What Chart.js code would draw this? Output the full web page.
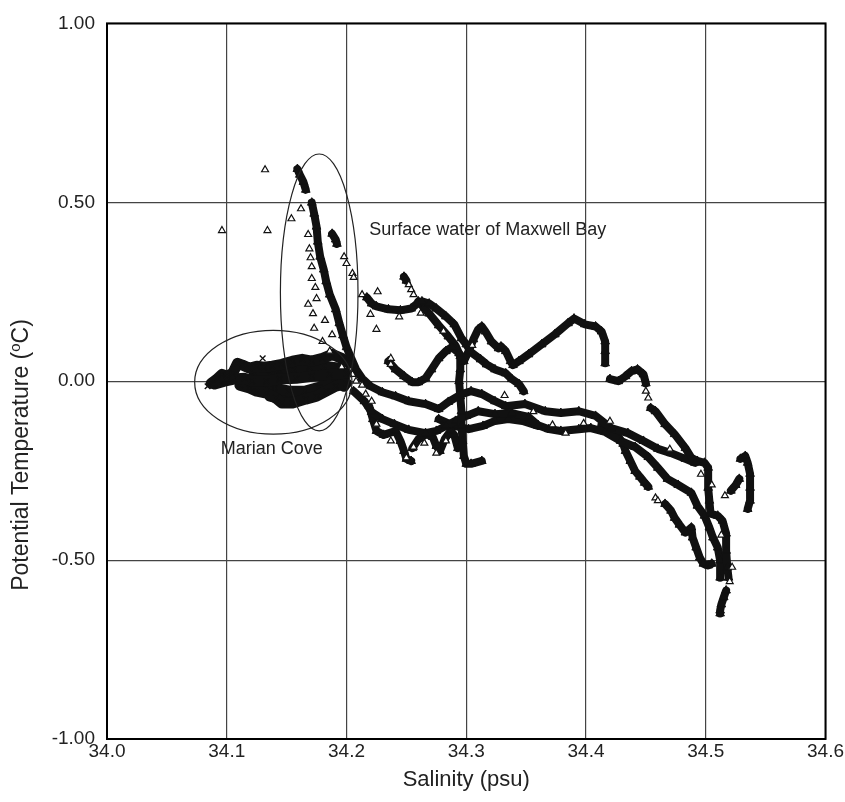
<!DOCTYPE html>
<html>
<head>
<meta charset="utf-8">
<title>Potential Temperature vs Salinity</title>
<script src="https://cdn.jsdelivr.net/npm/chart.js@4.4.0/dist/chart.umd.min.js"></script>
<style>
  html, body { margin: 0; padding: 0; background: #fff; }
  #wrap { width: 845px; height: 802px; }
</style>
</head>
<body>
<div id="wrap"><canvas id="tsChart" width="845" height="802"></canvas></div>
<script>
// axis ranges / ticks
const salinityRange = [34.0, 34.6];
const tempRange = [-1.0, 1.0];
const salinityStep = 0.1;
const tempStep = 0.5;

// Marian Cove casts (x markers) [salinity, potential temperature]
const marianCast1 = [[34.087,-0.006],[34.092,0.006],[34.096,0.019],[34.100,0.014],[34.105,0.022],[34.109,0.050],[34.113,0.045],[34.119,0.036],[34.125,0.042],[34.131,0.039],[34.138,0.042],[34.146,0.047],[34.155,0.056],[34.163,0.061],[34.171,0.056],[34.180,0.064],[34.188,0.075],[34.196,0.064],[34.202,0.050]];
const marianCast2 = [[34.090,-0.008],[34.098,0.000],[34.106,0.006],[34.115,0.008],[34.121,0.000],[34.133,0.000],[34.144,0.006],[34.158,0.008],[34.171,0.014],[34.186,0.019],[34.200,0.022]];
const marianCast3 = [[34.111,-0.011],[34.119,-0.019],[34.125,-0.028],[34.133,-0.033],[34.141,-0.047],[34.146,-0.061],[34.155,-0.061],[34.166,-0.050],[34.175,-0.042],[34.183,-0.028],[34.191,-0.014],[34.200,-0.006]];
const marianCast4 = [[34.129,-0.019],[34.140,-0.019],[34.152,-0.028],[34.165,-0.028],[34.177,-0.017],[34.190,-0.003],[34.198,0.008]];
const marianCast5 = [[34.144,0.028],[34.156,0.033],[34.169,0.039],[34.181,0.042],[34.194,0.036]];
const marianCast6 = [[34.123,0.022],[34.136,0.019],[34.152,0.014],[34.169,0.022],[34.186,0.006],[34.198,-0.014]];
const marianCast7 = [[34.136,-0.042],[34.148,-0.050],[34.161,-0.045],[34.173,-0.033]];
const marianSingles = [[34.130,0.064],[34.084,-0.014]];

// Maxwell Bay casts (triangles), null = gap in the trace
const bayCast1 = [[34.159,0.593],[34.161,0.577],[34.164,0.557],[34.166,0.535],null,
  [34.171,0.499],[34.173,0.468],[34.175,0.432],[34.176,0.390],[34.178,0.348],[34.181,0.312],[34.183,0.279],
  [34.186,0.242],[34.191,0.201],[34.194,0.162],[34.197,0.128],[34.200,0.095],[34.204,0.064],[34.208,0.033],
  [34.213,0.008],[34.220,-0.014],[34.230,-0.031],[34.241,-0.042],[34.252,-0.056],[34.266,-0.064],[34.277,-0.078],
  [34.285,-0.058],[34.296,-0.036],[34.304,-0.028],[34.313,-0.036],[34.324,-0.056],[34.333,-0.070],[34.349,-0.064],
  [34.366,-0.084],[34.379,-0.089],[34.394,-0.084],[34.408,-0.097],[34.421,-0.131],[34.435,-0.145],[34.448,-0.167],
  [34.460,-0.189],[34.471,-0.201],[34.483,-0.217],[34.491,-0.228]];
const bayCast2 = [[34.235,0.056],[34.241,0.033],[34.248,0.014],[34.255,-0.003],[34.260,-0.003],[34.266,0.008],
  [34.271,0.033],[34.277,0.064],[34.283,0.084],[34.288,0.095],[34.294,0.078],[34.298,0.056],[34.302,0.084],
  [34.306,0.117],[34.310,0.145],[34.313,0.153],[34.316,0.139],[34.321,0.111],[34.327,0.092],[34.329,0.097],
  [34.333,0.084],[34.337,0.056],[34.339,0.045],[34.344,0.056],[34.352,0.075],[34.363,0.103],[34.374,0.131],
  [34.385,0.162],[34.390,0.175],[34.399,0.159],[34.408,0.153],[34.413,0.139],[34.416,0.111],[34.416,0.084],
  [34.416,0.050],null,[34.420,0.006],[34.427,0.000],[34.433,0.014],[34.438,0.028],[34.443,0.033],[34.448,0.019],
  [34.450,-0.006],null,[34.454,-0.075],[34.458,-0.084],[34.466,-0.120],[34.474,-0.148],[34.483,-0.187],
  [34.488,-0.214],[34.493,-0.223],[34.499,-0.228],[34.502,-0.242],[34.502,-0.298],[34.503,-0.334],[34.504,-0.370],
  [34.510,-0.376],[34.514,-0.390],[34.517,-0.426],[34.517,-0.474],[34.518,-0.521],[34.519,-0.549]];
const bayCast3 = [[34.188,0.412],[34.191,0.396],[34.192,0.384],null,
  [34.217,0.234],[34.221,0.217],[34.225,0.209],[34.235,0.201],[34.245,0.198],[34.254,0.203],[34.259,0.217],
  [34.263,0.223],[34.269,0.217],[34.275,0.203],[34.283,0.181],[34.290,0.159],[34.296,0.120],[34.300,0.103],
  [34.304,0.081],[34.312,0.061],[34.317,0.047],[34.324,0.033],[34.333,0.022],[34.338,0.006],[34.344,-0.008],
  [34.348,-0.028]];
const bayCast4 = [[34.248,0.292],[34.250,0.281],null,[34.260,0.223],[34.269,0.189],[34.277,0.156],[34.285,0.125],
  [34.291,0.100],[34.295,0.070],[34.295,0.033],[34.294,0.000],[34.295,-0.042],[34.296,-0.084],[34.296,-0.125],
  [34.297,-0.167],[34.298,-0.209],[34.300,-0.231],[34.304,-0.231],[34.313,-0.223]];
const bayCast5 = [[34.206,-0.028],[34.215,-0.056],[34.221,-0.086],[34.230,-0.106],[34.240,-0.120],[34.252,-0.136],
  [34.266,-0.145],[34.275,-0.139],[34.283,-0.125],[34.291,-0.111],[34.300,-0.097],[34.310,-0.084],[34.324,-0.092],
  [34.338,-0.089],[34.352,-0.100],[34.360,-0.123],[34.369,-0.134],[34.379,-0.139],[34.394,-0.134],[34.404,-0.131],
  [34.416,-0.142],[34.429,-0.167],[34.441,-0.184],[34.452,-0.212],[34.460,-0.242],[34.468,-0.273],[34.477,-0.290],
  [34.488,-0.312],[34.493,-0.348],[34.499,-0.376],[34.503,-0.409],[34.506,-0.437],[34.510,-0.465],[34.512,-0.501],
  [34.512,-0.549]];
const bayCast6 = [[34.413,-0.120],[34.424,-0.139],[34.431,-0.175],[34.433,-0.195],[34.437,-0.223],[34.441,-0.251],
  [34.445,-0.267],[34.449,-0.284],[34.452,-0.295],null,[34.466,-0.343],[34.471,-0.362],[34.474,-0.382],
  [34.478,-0.401],[34.483,-0.423],[34.488,-0.409],[34.489,-0.437],[34.492,-0.465],[34.495,-0.493],[34.498,-0.510],
  [34.502,-0.515],[34.505,-0.510]];
const bayCast7 = [[34.219,-0.070],[34.222,-0.106],[34.225,-0.139],[34.231,-0.150],[34.241,-0.139],[34.245,-0.167],
  [34.248,-0.195],[34.250,-0.217],[34.254,-0.223]];
const bayCast8 = [[34.255,-0.187],[34.260,-0.162],[34.267,-0.148],[34.272,-0.156],[34.275,-0.181],[34.278,-0.195],
  [34.282,-0.162],[34.287,-0.139],[34.290,-0.150],[34.293,-0.187]];
const bayCast9 = [[34.517,-0.585],[34.515,-0.604],[34.513,-0.624],[34.512,-0.641],[34.512,-0.649]];
const bayCast10 = [[34.529,-0.217],[34.533,-0.209],[34.535,-0.228],[34.537,-0.259],[34.537,-0.298],[34.537,-0.334],[34.535,-0.357]];
const bayCast11 = [[34.521,-0.306],[34.525,-0.290],[34.528,-0.273]];
const bayCast12 = [[34.277,-0.106],[34.290,-0.125],[34.302,-0.134],[34.314,-0.125],[34.324,-0.111],[34.335,-0.106],[34.347,-0.111],[34.360,-0.125]];

// scattered single triangles
const baySingles = [[34.132,0.591],[34.096,0.421],[34.134,0.421],[34.154,0.454],[34.162,0.482],
  [34.169,0.370],[34.171,0.320],[34.171,0.287],[34.175,0.231],[34.172,0.189],[34.173,0.148],[34.180,0.111],
  [34.186,0.084],[34.220,0.187],[34.225,0.145],[34.237,0.064],[34.237,0.047],[34.198,0.348],[34.200,0.329],
  [34.205,0.301],[34.206,0.290],[34.252,0.270],[34.254,0.256],[34.256,0.242],[34.213,0.242],[34.450,-0.028],
  [34.452,-0.047],[34.458,-0.326],[34.460,-0.334],[34.516,-0.320],[34.205,0.019],[34.208,0.000],[34.213,-0.011],
  [34.216,-0.036],[34.221,-0.056],[34.225,-0.120],[34.237,-0.167],[34.256,-0.184],[34.265,-0.173],[34.275,-0.201],
  [34.283,-0.167],[34.250,-0.214],[34.168,0.410],[34.170,0.345],[34.174,0.262],[34.168,0.215],[34.182,0.170],
  [34.188,0.130],[34.196,0.040],[34.226,0.250],[34.244,0.180],[34.262,0.190],[34.281,0.140],[34.305,0.100],
  [34.332,-0.040],[34.356,-0.085],[34.372,-0.122],[34.383,-0.145],[34.398,-0.118],[34.420,-0.112],[34.470,-0.190],
  [34.496,-0.260],[34.505,-0.290],[34.513,-0.430],[34.522,-0.520],[34.520,-0.560]];

// annotations (ellipse centre and half-axes in data units)
const ellipses = [
  { sal: 34.1772, temp: 0.248, dSal: 0.0324, dTemp: 0.387 },
  { sal: 34.1389, temp: -0.003, dSal: 0.0657, dTemp: 0.145 }
];
const notes = [
  { text: 'Surface water of Maxwell Bay', sal: 34.219, temp: 0.423 },
  { text: 'Marian Cove', sal: 34.095, temp: -0.189 }
];

const FONT = "'Liberation Sans', Arial, sans-serif";

function toPoints(arr) {
    return arr.map(p => p ? { x: p[0], y: p[1] } : { x: NaN, y: NaN });
}

function denseSet(arr) {
    return {
        data: toPoints(arr), showLine: true, spanGaps: false, tension: 0,
        borderColor: '#111', borderWidth: 8, borderJoinStyle: 'round', borderCapStyle: 'round',
        pointStyle: 'triangle', pointRadius: 5, pointBackgroundColor: '#111',
        pointBorderColor: '#111', pointBorderWidth: 1, order: 2
    };
}

function marianSet(arr, line) {
    return {
        data: toPoints(arr), showLine: line, spanGaps: false, tension: 0,
        borderColor: '#111', borderWidth: 11, borderJoinStyle: 'round', borderCapStyle: 'round',
        pointStyle: 'crossRot', pointRadius: 4, pointBorderColor: '#111',
        pointBorderWidth: 1.4, order: 3
    };
}

const datasets = [
    marianSet(marianCast1, true), marianSet(marianCast2, true), marianSet(marianCast3, true),
    marianSet(marianCast4, true), marianSet(marianCast5, true), marianSet(marianCast6, true),
    marianSet(marianCast7, true), marianSet(marianSingles, false),
    denseSet(bayCast1), denseSet(bayCast2), denseSet(bayCast3), denseSet(bayCast4), denseSet(bayCast5),
    denseSet(bayCast6), denseSet(bayCast7), denseSet(bayCast8), denseSet(bayCast9), denseSet(bayCast10),
    denseSet(bayCast11), denseSet(bayCast12),
    {
        data: toPoints(baySingles), showLine: false,
        pointStyle: 'triangle', pointRadius: 4, pointBackgroundColor: '#fff',
        pointBorderColor: '#111', pointBorderWidth: 1.2, order: 1
    }
];

const overlay = {
    id: 'overlay',
    afterDatasetsDraw(chart) {
        const ctx = chart.ctx;
        const a = chart.chartArea;
        const x = chart.scales.x, y = chart.scales.y;
        ctx.save();

        // ellipses round the water masses
        ctx.strokeStyle = '#222';
        ctx.lineWidth = 1.2;
        ellipses.forEach(e => {
            const cx = x.getPixelForValue(e.sal), cy = y.getPixelForValue(e.temp);
            const rx = Math.abs(x.getPixelForValue(e.sal + e.dSal) - cx);
            const ry = Math.abs(y.getPixelForValue(e.temp + e.dTemp) - cy);
            ctx.beginPath();
            ctx.ellipse(cx, cy, rx, ry, 0, 0, Math.PI * 2);
            ctx.stroke();
        });

        // text notes
        ctx.fillStyle = '#222';
        ctx.font = '18px ' + FONT;
        ctx.textBaseline = 'middle';
        ctx.textAlign = 'left';
        notes.forEach(n => ctx.fillText(n.text, x.getPixelForValue(n.sal), y.getPixelForValue(n.temp)));

        // frame
        ctx.strokeStyle = '#000';
        ctx.lineWidth = 2;
        ctx.strokeRect(a.left, a.top, a.right - a.left, a.bottom - a.top);

        // axis titles
        ctx.font = '22px ' + FONT;
        ctx.textAlign = 'center';
        ctx.fillText('Salinity (psu)', (a.left + a.right) / 2, 780);

        // y title with superscript o
        const big = '23px ' + FONT, small = '15px ' + FONT;
        const p1 = 'Potential Temperature (', p3 = 'C)';
        ctx.font = big;
        const w1 = ctx.measureText(p1).width, w3 = ctx.measureText(p3).width;
        ctx.font = small;
        const w2 = ctx.measureText('o').width;
        const total = w1 + w2 + w3;
        ctx.translate(22, 455);
        ctx.rotate(-Math.PI / 2);
        ctx.textAlign = 'left';
        ctx.font = big;
        ctx.fillText(p1, -total / 2, 0);
        ctx.font = small;
        ctx.fillText('o', -total / 2 + w1, -6);
        ctx.font = big;
        ctx.fillText(p3, -total / 2 + w1 + w2, 0);
        ctx.restore();
    }
};

const ctx = document.getElementById('tsChart').getContext('2d');
new Chart(ctx, {
    type: 'scatter',
    data: { datasets: datasets },
    options: {
        responsive: false,
        animation: false,
        layout: { padding: { top: 21, right: 17, left: 0, bottom: 0 } },
        plugins: { legend: { display: false }, tooltip: { enabled: false } },
        scales: {
            x: {
                type: 'linear', min: salinityRange[0], max: salinityRange[1],
                afterFit: s => { s.height = 63; },
                border: { display: false },
                grid: { color: '#444', lineWidth: 1.2, drawTicks: false },
                ticks: {
                    stepSize: salinityStep, padding: 1, color: '#222',
                    font: { family: FONT, size: 19 },
                    callback: v => v.toFixed(1)
                }
            },
            y: {
                type: 'linear', min: tempRange[0], max: tempRange[1],
                afterFit: s => { s.width = 107; },
                border: { display: false },
                grid: { color: '#444', lineWidth: 1.2, drawTicks: false },
                ticks: {
                    stepSize: tempStep, padding: 12, color: '#222',
                    font: { family: FONT, size: 19 },
                    callback: v => v.toFixed(2)
                }
            }
        }
    },
    plugins: [overlay]
});
</script>
</body>
</html>
